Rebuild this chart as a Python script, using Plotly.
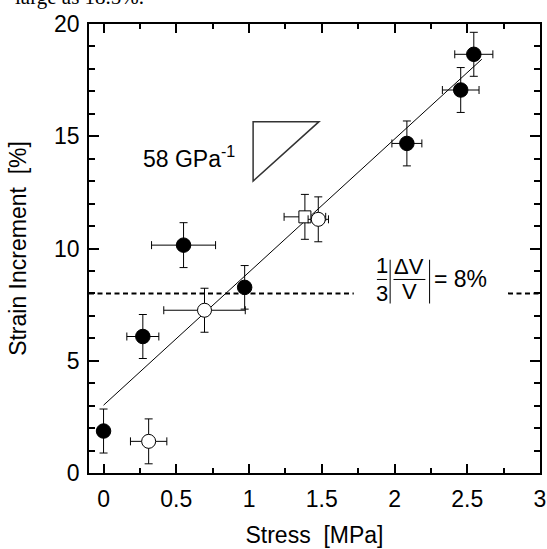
import plotly.graph_objects as go

# ---- data ----
filled_x = [0.0, 0.27, 0.55, 0.97, 2.085, 2.455, 2.545]
filled_y = [1.87, 6.08, 10.15, 8.27, 14.68, 17.06, 18.65]
filled_xerr = [0.0, 0.11, 0.22, 0.0, 0.103, 0.126, 0.131]
filled_yerr = [0.98, 0.98, 1.0, 0.97, 1.0, 1.0, 0.98]

open_x = [0.31, 0.694, 1.476]
open_y = [1.41, 7.25, 11.30]
open_xerr = [0.125, 0.28, 0.07]
open_yerr = [1.0, 0.98, 1.0]

square_x = [1.384]
square_y = [11.41]
square_xerr = [0.143]
square_yerr = [1.0]

fit_x = [0.0, 2.6]
fit_y = [3.02, 18.43]

threshold = 8.0
threshold_x = [-0.1, 1.72, None, 2.78, 3.0]

tri_x = [1.028, 1.481, 1.028]
tri_y = [15.65, 15.65, 13.0]

x_ticks = [0, 0.5, 1, 1.5, 2, 2.5, 3]
x_ticktext = ["0", "0.5", "1", "1.5", "2", "2.5", "3"]
y_ticks = [0, 5, 10, 15, 20]
y_ticktext = ["0", "5", "10", "15", "20"]

FONT = "Liberation Sans, Arial, sans-serif"
FS = 23

fig = go.Figure()

# fit line
fig.add_trace(go.Scatter(x=fit_x, y=fit_y, mode="lines",
                         line=dict(color="black", width=1), showlegend=False))
# threshold dotted line
fig.add_trace(go.Scatter(x=threshold_x, y=[threshold if v is not None else None for v in threshold_x],
                         mode="lines", connectgaps=False,
                         line=dict(color="black", width=2, dash="5px,3.5px"), showlegend=False))

err_style = dict(type="data", color="black", thickness=1, width=4)

fig.add_trace(go.Scatter(
    x=square_x, y=square_y, mode="markers",
    marker=dict(symbol="square", size=12, color="white", line=dict(color="black", width=1)),
    error_x=dict(array=square_xerr, **err_style), error_y=dict(array=square_yerr, **err_style),
    showlegend=False))
fig.add_trace(go.Scatter(
    x=open_x, y=open_y, mode="markers",
    marker=dict(symbol="circle", size=14, color="white", line=dict(color="black", width=1)),
    error_x=dict(array=open_xerr, **err_style), error_y=dict(array=open_yerr, **err_style),
    showlegend=False))
fig.add_trace(go.Scatter(
    x=filled_x, y=filled_y, mode="markers",
    marker=dict(symbol="circle", size=14.5, color="black", line=dict(color="black", width=1)),
    error_x=dict(array=filled_xerr, **err_style), error_y=dict(array=filled_yerr, **err_style),
    showlegend=False))

# slope triangle
path = "M {} {} L {} {} L {} {} Z".format(tri_x[0], tri_y[0], tri_x[1], tri_y[1], tri_x[2], tri_y[2])
fig.add_shape(type="path", path=path, xref="x", yref="y",
              line=dict(color="#333333", width=1.5))

# fraction annotation pieces (1/3 |dV/V| = 8%)
fig.add_annotation(x=1.913, y=9.26, xref="x", yref="y", text="1", showarrow=False,
                   font=dict(family=FONT, size=FS - 1, color="black"))
fig.add_annotation(x=1.913, y=8.0, xref="x", yref="y", text="3", showarrow=False,
                   font=dict(family=FONT, size=FS - 1, color="black"))
fig.add_annotation(x=2.102, y=9.22, xref="x", yref="y", text="\u0394V", showarrow=False,
                   font=dict(family=FONT, size=FS - 1, color="black"))
fig.add_annotation(x=2.102, y=8.07, xref="x", yref="y", text="V", showarrow=False,
                   font=dict(family=FONT, size=FS - 1, color="black"))
fig.add_annotation(x=2.255, y=8.62, xref="x", yref="y", text="= 8%", showarrow=False,
                   xanchor="left", font=dict(family=FONT, size=FS, color="black"))
for (x0, y0, x1, y1) in [(1.879, 8.62, 1.948, 8.62), (1.993, 8.62, 2.212, 8.62),
                         (1.970, 9.50, 1.970, 7.55), (2.241, 9.50, 2.241, 7.55)]:
    fig.add_shape(type="line", x0=x0, y0=y0, x1=x1, y1=y1, xref="x", yref="y",
                  line=dict(color="black", width=1))

fig.add_annotation(x=0.915, y=14.06, xref="x", yref="y", text="58 GPa<sup>-1</sup>",
                   showarrow=False, xanchor="right",
                   font=dict(family=FONT, size=FS, color="black"))

# clipped caption text at very top
fig.add_annotation(x=0.127, y=1.028, xref="paper", yref="paper", text="large as 18.5%.",
                   showarrow=False, xanchor="right", yanchor="bottom",
                   font=dict(family="Liberation Serif, Times New Roman, serif", size=21, color="black"))

axis_common = dict(showline=True, linecolor="black", linewidth=1.5, mirror="ticks",
                   ticks="inside", tickcolor="black", tickwidth=1.5, showgrid=False,
                   zeroline=False, automargin=False,
                   tickfont=dict(family=FONT, size=FS, color="black"))

fig.update_layout(
    width=547, height=549,
    margin=dict(l=89, r=7, t=24, b=76, autoexpand=False),
    paper_bgcolor="white", plot_bgcolor="white",
    xaxis=dict(range=[-0.1, 3.0], tickvals=x_ticks, ticktext=x_ticktext, ticklen=9,
               ticklabelstandoff=5,
               minor=dict(ticks="inside", ticklen=5, dtick=0.25, tick0=0, tickcolor="black", tickwidth=1.5),
               title=dict(text="Stress\u00a0\u00a0[MPa]", font=dict(family=FONT, size=FS, color="black"), standoff=16),
               **axis_common),
    yaxis=dict(range=[0, 20], tickvals=y_ticks, ticktext=y_ticktext, ticklen=10,
               ticklabelstandoff=3,
               minor=dict(ticks="inside", ticklen=6, dtick=1, tick0=0, tickcolor="black", tickwidth=1.5),
               title=dict(text="Strain Increment\u00a0\u00a0[%]", font=dict(family=FONT, size=FS, color="black"), standoff=21),
               **axis_common),
)

fig.write_html("out.html", config={"displayModeBar": False},
               post_script="document.body.style.margin='0px';")
